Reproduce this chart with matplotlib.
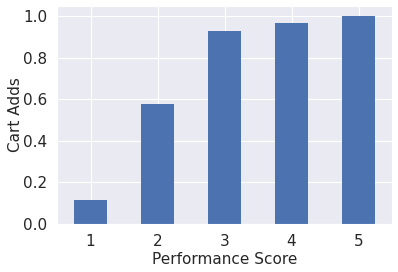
import numpy as np
import matplotlib
matplotlib.use("Agg")
import matplotlib.pyplot as plt
import seaborn as sns

sns.set_style("darkgrid")

scores = ["1", "2", "3", "4", "5"]
cart_adds = [0.116, 0.58, 0.928, 0.966, 1.0]

fig = plt.figure(figsize=(3.98, 2.72), dpi=100)
ax = fig.add_axes([57 / 398, 1 - 224 / 272, 335 / 398, 218 / 272])
idx = np.arange(len(scores))
ax.bar(idx, cart_adds, width=0.5, color="#4C72B0", linewidth=0)
ax.set_xlim(-0.5, len(scores) - 0.5)
ax.set_ylim(0, 1.05)
ax.set_xticks(idx)
ax.set_xticklabels(scores)
ax.set_yticks([0.0, 0.2, 0.4, 0.6, 0.8, 1.0])
ax.tick_params(labelsize=11, colors=".15")
ax.set_xlabel("Performance Score", fontsize=11, color=".15", labelpad=2)
ax.set_ylabel("Cart Adds", fontsize=11, color=".15", labelpad=0)
plt.savefig("out.png", dpi=100)
